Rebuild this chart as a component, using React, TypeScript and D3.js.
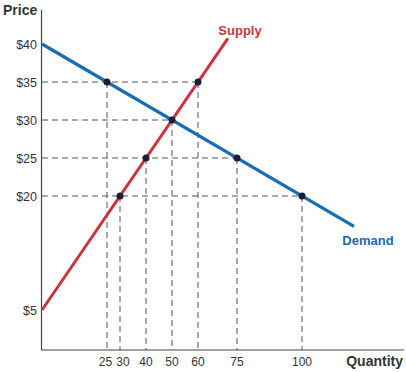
import React, { useEffect, useRef } from 'react';
import * as d3 from 'd3';

const priceTicks = [5, 20, 25, 30, 35, 40];
const quantityTicks = [25, 30, 40, 50, 60, 75, 100];

// end points of the two curves [quantity, price]
const demandLine: [number, number][] = [[0, 40], [120, 16]];
const supplyLine: [number, number][] = [[0, 5], [71.5, 40.75]];

const demandPoints: [number, number][] = [[25, 35], [50, 30], [75, 25], [100, 20]];
const supplyPoints: [number, number][] = [[30, 20], [40, 25], [50, 30], [60, 35]];

const WIDTH = 406;
const HEIGHT = 372;

const App: React.FC = () => {
  const svgRef = useRef<SVGSVGElement>(null);

  useEffect(() => {
    if (!svgRef.current) return;
    const svg = d3.select(svgRef.current);
    svg.selectAll('*').remove();

    const font = '"Liberation Sans", Arial, sans-serif';
    const x = d3.scaleLinear().domain([0, 100]).range([42, 302]);
    const y = d3.scaleLinear().domain([0, 40]).range([348, 44]);
    const axisY = 350;

    // unique points (the equilibrium sits on both curves)
    const allPoints = Array.from(
      new Map([...demandPoints, ...supplyPoints].map((d) => [d.join(','), d])).values()
    );

    // dashed guides
    const guides = svg.append('g')
      .attr('stroke', '#555')
      .attr('stroke-width', 1)
      .attr('stroke-dasharray', '6,4')
      .attr('fill', 'none');

    priceTicks.forEach((p) => {
      const qs = allPoints.filter((d) => d[1] === p).map((d) => d[0]);
      if (!qs.length) return;
      guides.append('line')
        .attr('x1', x(0)).attr('x2', x(d3.max(qs) as number))
        .attr('y1', y(p)).attr('y2', y(p));
    });

    allPoints.forEach((d) => {
      guides.append('line')
        .attr('x1', x(d[0])).attr('x2', x(d[0]))
        .attr('y1', y(d[1])).attr('y2', axisY);
    });

    // axes
    svg.append('line')
      .attr('x1', 41.5).attr('x2', 41.5)
      .attr('y1', 10).attr('y2', axisY)
      .attr('stroke', '#444').attr('stroke-width', 1.2);
    svg.append('line')
      .attr('x1', 41).attr('x2', 404)
      .attr('y1', axisY).attr('y2', axisY)
      .attr('stroke', '#444').attr('stroke-width', 1.2);

    const line = d3.line<[number, number]>()
      .x((d) => x(d[0]))
      .y((d) => y(d[1]));

    svg.append('path')
      .attr('d', line(supplyLine))
      .attr('stroke', '#cc3340')
      .attr('stroke-width', 3)
      .attr('fill', 'none');

    svg.append('path')
      .attr('d', line(demandLine))
      .attr('stroke', '#1a6db3')
      .attr('stroke-width', 3.2)
      .attr('fill', 'none');

    svg.append('g')
      .selectAll('circle')
      .data(allPoints)
      .join('circle')
      .attr('cx', (d) => x(d[0]))
      .attr('cy', (d) => y(d[1]))
      .attr('r', 3.5)
      .attr('fill', '#1b1f33');

    // tick labels
    svg.append('g')
      .selectAll('text')
      .data(priceTicks)
      .join('text')
      .attr('x', 37)
      .attr('y', (d) => y(d) + 4.5)
      .attr('text-anchor', 'end')
      .attr('font-family', font)
      .attr('font-size', 12.5)
      .attr('fill', '#333')
      .text((d) => `$${d}`);

    // 25 and 30 sit close together, push them apart a little
    const nudge = (d: number) => (d === 25 ? -1.5 : d === 30 ? 3 : 0);
    svg.append('g')
      .selectAll('text')
      .data(quantityTicks)
      .join('text')
      .attr('x', (d) => x(d) + nudge(d))
      .attr('y', 366)
      .attr('text-anchor', 'middle')
      .attr('font-family', font)
      .attr('font-size', 12)
      .attr('fill', '#333')
      .text((d) => String(d));

    svg.append('text')
      .attr('x', 3).attr('y', 15)
      .attr('font-family', font)
      .attr('font-size', 14)
      .attr('font-weight', 'bold')
      .attr('fill', '#333')
      .text('Price');

    svg.append('text')
      .attr('x', 403).attr('y', 366)
      .attr('text-anchor', 'end')
      .attr('font-family', font)
      .attr('font-size', 14)
      .attr('font-weight', 'bold')
      .attr('fill', '#333')
      .text('Quantity');

    svg.append('text')
      .attr('x', 240).attr('y', 35)
      .attr('text-anchor', 'middle')
      .attr('font-family', font)
      .attr('font-size', 13)
      .attr('font-weight', 'bold')
      .attr('fill', '#c0383f')
      .text('Supply');

    svg.append('text')
      .attr('x', 368).attr('y', 245)
      .attr('text-anchor', 'middle')
      .attr('font-family', font)
      .attr('font-size', 13)
      .attr('font-weight', 'bold')
      .attr('fill', '#1d6aad')
      .text('Demand');
  }, []);

  return (
    <div style={{ position: 'absolute', left: 0, top: 0, background: '#fff' }}>
      <svg ref={svgRef} width={WIDTH} height={HEIGHT} style={{ display: 'block' }} />
    </div>
  );
};

export default App;
